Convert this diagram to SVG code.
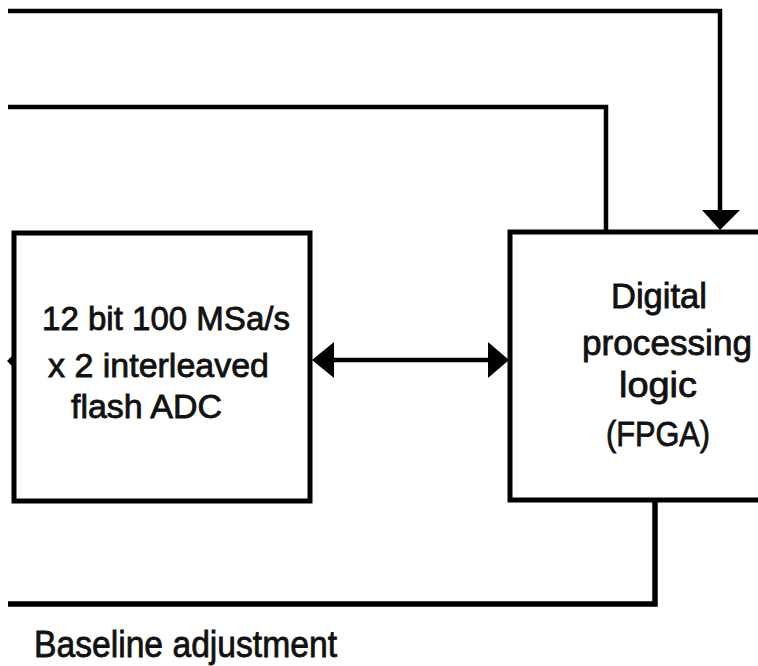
<svg xmlns="http://www.w3.org/2000/svg" width="758" height="666" viewBox="0 0 758 666">
  <style>
    .box { fill: #ffffff; stroke: #000000; stroke-width: 5; }
    .wire { fill: none; stroke: #000000; stroke-width: 4.5; }
    .head { fill: #000000; stroke: none; }
    .lbl { font-family: "Liberation Sans", Arial, sans-serif; font-size: 33px; fill: #111111; stroke: #111111; stroke-width: 0.8; }
    .big { font-size: 35px; }
    .cap { font-size: 37.5px; }
  </style>
  <rect width="758" height="666" fill="#ffffff"/>
  <g id="connectors">
    <path class="wire" d="M8,11 H720 V212"/>
    <polygon class="head" points="702,210 740,210 720,230"/>
    <path class="wire" d="M8,107 H606 V232"/>
    <path class="wire" d="M331,360 H491"/>
    <polygon class="head" points="312,360 334,342 334,378"/>
    <polygon class="head" points="509,360 488,342 488,378"/>
    <path class="wire" style="stroke-width:5.5" d="M655,500 V604 H8"/>
    <polygon class="head" points="7,361 12,356 12,366"/>
  </g>
  <g id="adc">
    <rect class="box" x="14" y="233" width="296" height="268"/>
    <text class="lbl" x="42" y="330" textLength="248" lengthAdjust="spacingAndGlyphs">12 bit 100 MSa/s</text>
    <text class="lbl" x="48" y="377" textLength="221" lengthAdjust="spacingAndGlyphs">x 2 interleaved</text>
    <text class="lbl" x="71" y="418" textLength="151" lengthAdjust="spacingAndGlyphs">flash ADC</text>
  </g>
  <g id="fpga">
    <rect class="box" x="510" y="232" width="270" height="268"/>
    <text class="lbl big" x="611" y="308" textLength="96" lengthAdjust="spacingAndGlyphs">Digital</text>
    <text class="lbl big" x="582" y="355" textLength="170" lengthAdjust="spacingAndGlyphs">processing</text>
    <text class="lbl big" x="619" y="397" textLength="78" lengthAdjust="spacingAndGlyphs">logic</text>
    <text class="lbl big" x="606" y="446" textLength="104" lengthAdjust="spacingAndGlyphs">(FPGA)</text>
  </g>
  <g id="baseline-label">
    <text class="lbl cap" x="34" y="657" textLength="303" lengthAdjust="spacingAndGlyphs">Baseline adjustment</text>
  </g>
</svg>
